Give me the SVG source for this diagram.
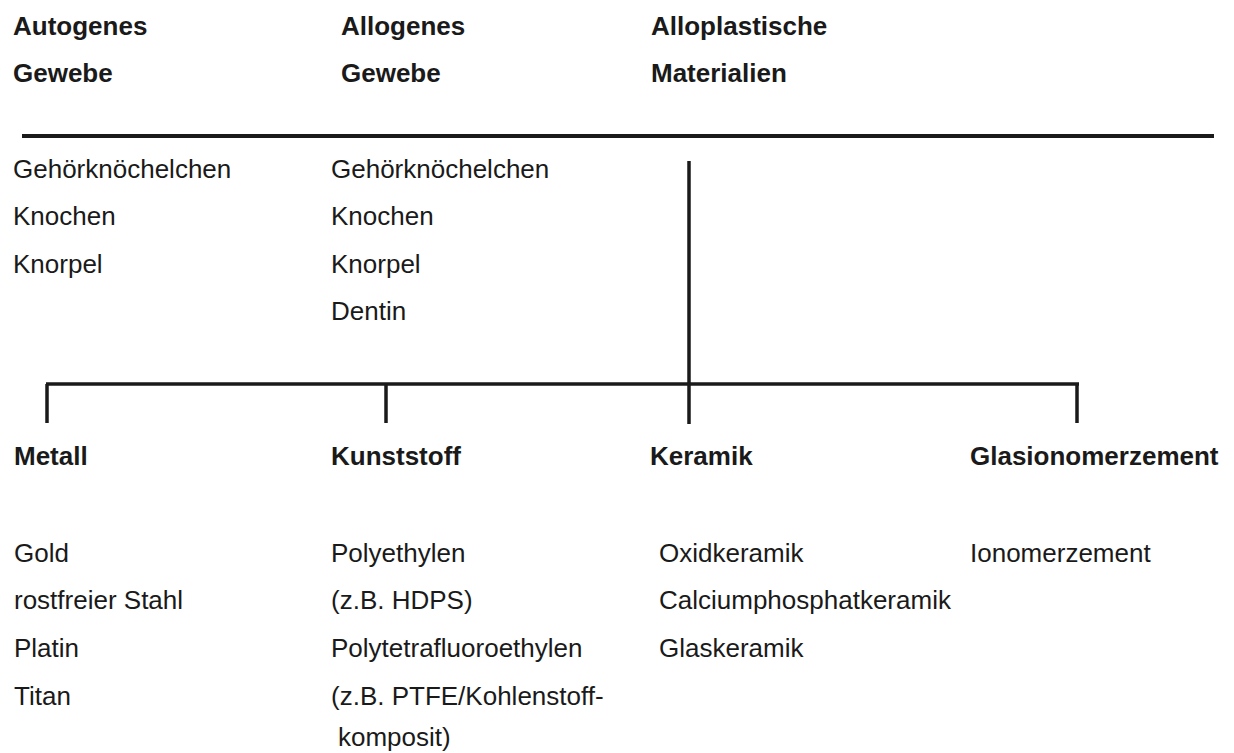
<svg xmlns="http://www.w3.org/2000/svg" width="1234" height="753" viewBox="0 0 1234 753">
<style>
text{font-family:"Liberation Sans",Arial,sans-serif;font-size:26px;fill:#1a1a1a}
.b{font-weight:bold}
.ln{stroke:#1a1a1a;stroke-width:3.5;fill:none}
</style>
<rect width="1234" height="753" fill="#fff"/>
<g id="connectors">
<line class="ln" x1="22" y1="136" x2="1214" y2="136" style="stroke-width:4"/>
<line class="ln" x1="689" y1="161" x2="689" y2="424"/>
<line class="ln" x1="46" y1="384" x2="1079" y2="384"/>
<line class="ln" x1="47" y1="384" x2="47" y2="423"/>
<line class="ln" x1="386" y1="384" x2="386" y2="423"/>
<line class="ln" x1="1077" y1="384" x2="1077" y2="423"/>
</g>
<g id="autogen">
<text class="b" x="13" y="35">Autogenes</text>
<text class="b" x="13" y="82">Gewebe</text>
<text x="13" y="178">Gehörknöchelchen</text>
<text x="13" y="225">Knochen</text>
<text x="13" y="273">Knorpel</text>
</g>
<g id="allogen">
<text class="b" x="341" y="35">Allogenes</text>
<text class="b" x="341" y="82">Gewebe</text>
<text x="331" y="178">Gehörknöchelchen</text>
<text x="331" y="225">Knochen</text>
<text x="331" y="273">Knorpel</text>
<text x="331" y="320">Dentin</text>
</g>
<g id="alloplast">
<text class="b" x="651" y="35">Alloplastische</text>
<text class="b" x="651" y="82">Materialien</text>
</g>
<g id="metall">
<text class="b" x="14" y="465">Metall</text>
<text x="14" y="562">Gold</text>
<text x="14" y="609">rostfreier Stahl</text>
<text x="14" y="657">Platin</text>
<text x="14" y="705">Titan</text>
</g>
<g id="kunststoff">
<text class="b" x="331" y="465">Kunststoff</text>
<text x="331" y="562">Polyethylen</text>
<text x="331" y="609">(z.B. HDPS)</text>
<text x="331" y="657">Polytetrafluoroethylen</text>
<text x="331" y="705">(z.B. PTFE/Kohlenstoff-</text>
<text x="338" y="746">komposit)</text>
</g>
<g id="keramik">
<text class="b" x="650" y="465">Keramik</text>
<text x="659" y="562">Oxidkeramik</text>
<text x="659" y="609">Calciumphosphatkeramik</text>
<text x="659" y="657">Glaskeramik</text>
</g>
<g id="glasionomer">
<text class="b" x="970" y="465">Glasionomerzement</text>
<text x="970" y="562">Ionomerzement</text>
</g>
</svg>
